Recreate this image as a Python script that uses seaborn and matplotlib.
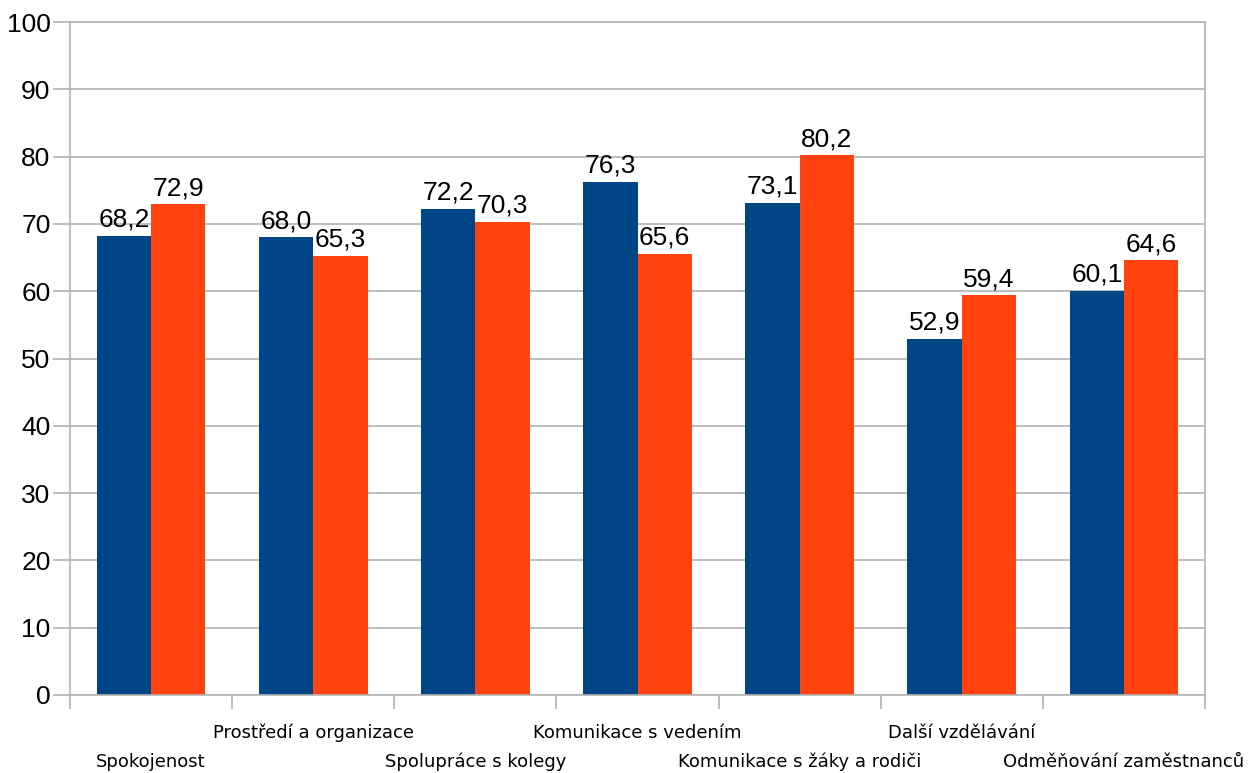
import pandas as pd
import seaborn as sns
import matplotlib.pyplot as plt
from matplotlib.transforms import blended_transform_factory

# data
categories = ["Spokojenost", "Prostředí a organizace", "Spolupráce s kolegy",
              "Komunikace s vedením", "Komunikace s žáky a rodiči",
              "Další vzdělávání", "Odměňování zaměstnanců"]
series_names = ["A", "B"]
values_a = [68.2, 68.0, 72.2, 76.3, 73.1, 52.9, 60.1]
values_b = [72.9, 65.3, 70.3, 65.6, 80.2, 59.4, 64.6]
colors = ["#004586", "#ff420e"]

df = pd.DataFrame({
    "kategorie": categories * 2,
    "skupina": [series_names[0]] * 7 + [series_names[1]] * 7,
    "hodnota": values_a + values_b,
})

sns.set_style("white")
plt.rcParams["font.family"] = ["Liberation Sans", "DejaVu Sans"]
plt.rcParams["text.color"] = "black"
plt.rcParams["ytick.labelcolor"] = "black"

fig = plt.figure(figsize=(12.48, 7.73), dpi=100)
ax = fig.add_axes([70 / 1248, 1 - 695 / 773, (1205 - 70) / 1248, (695 - 22) / 773])

sns.barplot(data=df, x="kategorie", y="hodnota", hue="skupina", order=categories,
            palette=colors, width=0.67, gap=0, saturation=1, linewidth=0,
            ax=ax, legend=False)

for cont in ax.containers:
    labs = [f"{v:.1f}".replace(".", ",") for v in cont.datavalues]
    ax.bar_label(cont, labels=labs, padding=3, fontsize=19, color="black")

ax.set_ylim(0, 100)
ax.set_xlim(-0.5, 6.5)
ax.set_yticks(range(0, 101, 10))
ax.yaxis.grid(True, color="#b3b3b3", linewidth=1.2)
ax.set_axisbelow(True)
for s in ax.spines.values():
    s.set_color("#b3b3b3")
    s.set_linewidth(1.2)
ax.tick_params(axis="y", length=12, color="#b3b3b3", width=1.2, labelsize=19,
               labelcolor="black", pad=2, left=True)

# category labels, staggered on two rows
ax.set_xticks(range(7))
ax.set_xticklabels([])
ax.tick_params(axis="x", which="major", length=0)
ax.set_xticks([i - 0.5 for i in range(8)], minor=True)
ax.tick_params(axis="x", which="minor", length=10, color="#b3b3b3", width=1.2, bottom=True)
trans = blended_transform_factory(ax.transData, ax.transAxes)
for i, c in enumerate(categories):
    y_off = -(767 - 695) / 673 if i % 2 == 0 else -(738 - 695) / 673
    ax.text(i, y_off, c, transform=trans, ha="center", va="baseline", color="black",
            family=["DejaVu Sans Condensed", "DejaVu Sans"], fontsize=13)
ax.set_xlabel("")
ax.set_ylabel("")

fig.savefig("out.png", dpi=100)
